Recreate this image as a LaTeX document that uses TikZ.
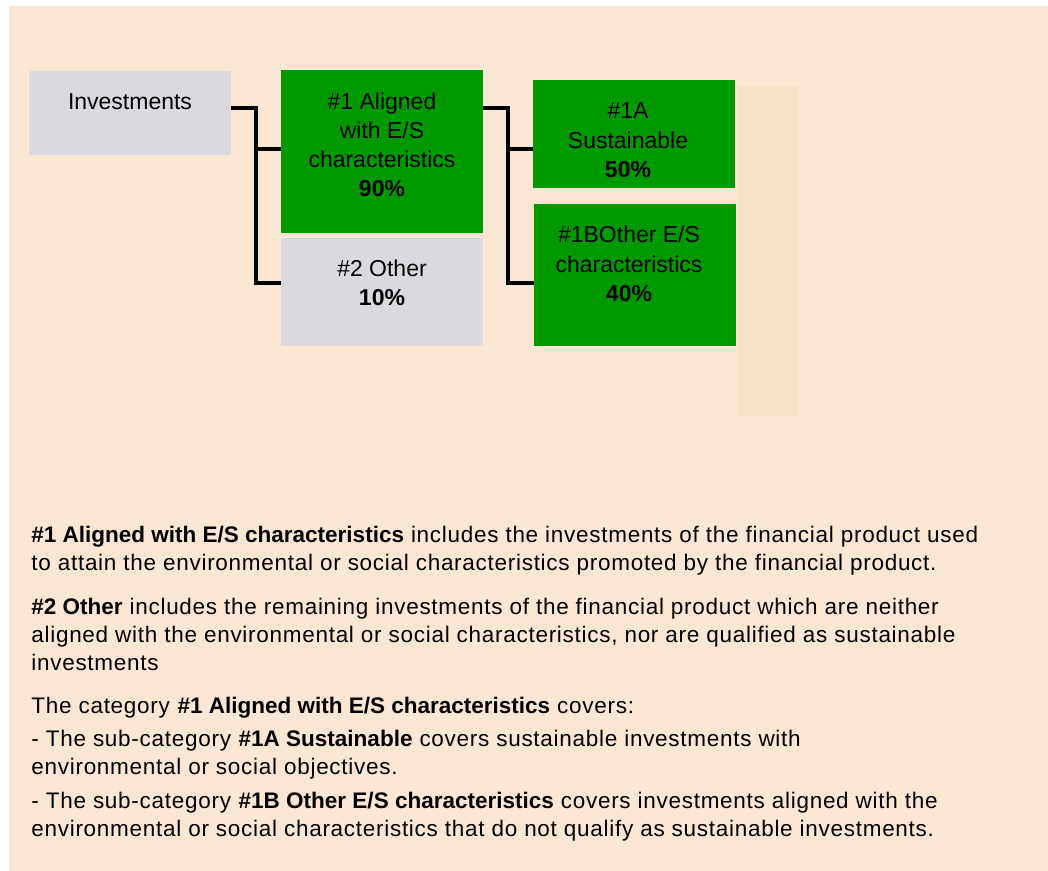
\documentclass[tikz,border=0pt]{standalone}
\usepackage{fontspec}
\setmainfont{Liberation Sans}
\newfontfamily\notefont{Liberation Sans}[LetterSpace=3.2, BoldFeatures={LetterSpace=0}]
\usetikzlibrary{positioning}
\definecolor{peach}{HTML}{F9E7D4}
\definecolor{boxgrey}{HTML}{DCD9DE}
\definecolor{boxgreen}{HTML}{009900}
\definecolor{tancol}{HTML}{F3E2C5}
\begin{document}
\begin{tikzpicture}[x=0.5pt, y=-0.5pt,
  greybox/.style={fill=boxgrey, minimum width=101pt, inner sep=0pt, outer sep=0pt},
  greenbox/.style={fill=boxgreen, minimum width=101pt, inner sep=0pt, outer sep=0pt},
  boxtext/.style={anchor=base, align=center, inner sep=0pt, font=\fontsize{11.5}{14.65}\selectfont},
  note/.style={anchor=base west, align=left, inner sep=0pt, font=\notefont\fontsize{11.25}{14}\selectfont},
  conn/.style={line width=2pt}]
\fill[white] (0,0) rectangle (1048,871);
\fill[peach] (9,6) rectangle (1048,871);
\fill[tancol] (737,86) rectangle (798,416);
\node[greybox, minimum height=42pt] (inv) at (130,113) {};
\node[greenbox, minimum height=81.5pt] (al) at (382,151.5) {};
\node[greybox, minimum height=54pt] (oth) at (382,292) {};
\node[greenbox, minimum height=54pt] (sus) at (634,134) {};
\node[greenbox, minimum height=71pt] (oes) at (635,275) {};
\node[boxtext] at ([yshift=-19.5pt]inv.north) {Investments};
\node[boxtext] at ([yshift=-63.5pt]al.north) {\#1 Aligned\\with E/S\\characteristics\\\textbf{90\%}};
\node[boxtext] at ([yshift=-34pt]oth.north) {\#2 Other\\\textbf{10\%}};
\node[boxtext] at ([xshift=-3pt, yshift=-48.8pt]sus.north) {\#1A\\Sustainable\\\textbf{50\%}};
\node[boxtext] at ([xshift=-3pt, yshift=-48.8pt]oes.north) {\#1BOther E/S\\characteristics\\\textbf{40\%}};
\coordinate (s1) at (256,108);
\coordinate (s1m) at (256,149);
\coordinate (s1b) at (256,283);
\coordinate (s2) at (508,108);
\coordinate (s2m) at (508,149);
\coordinate (s2b) at (508,283);
\draw[conn] (inv.east |- s1) -- (s1) -- (s1b) -- (oth.west |- s1b);
\draw[conn] (s1m) -- (al.west |- s1m);
\draw[conn] (al.east |- s2) -- (s2) -- (s2b) -- (oes.west |- s2b);
\draw[conn] (s2m) -- (sus.west |- s2m);
\node[note] (p1) at (31,570) {\textbf{\#1 Aligned with E/S characteristics} includes the investments of the financial product used\\to attain the environmental or social characteristics promoted by the financial product.};
\node[note] (p2) at (31,670) {\textbf{\#2 Other} includes the remaining investments of the financial product which are neither\\aligned with the environmental or social characteristics, nor are qualified as sustainable\\investments};
\node[note] (p3) at (31,713) {The category \textbf{\#1 Aligned with E/S characteristics} covers:};
\node[note] (p4) at (31,774) {- The sub-category \textbf{\#1A Sustainable} covers sustainable investments with\\environmental or social objectives.};
\node[note] (p5) at (31,836) {- The sub-category \textbf{\#1B Other E/S characteristics} covers investments aligned with the\\environmental or social characteristics that do not qualify as sustainable investments.};
\end{tikzpicture}
\end{document}
